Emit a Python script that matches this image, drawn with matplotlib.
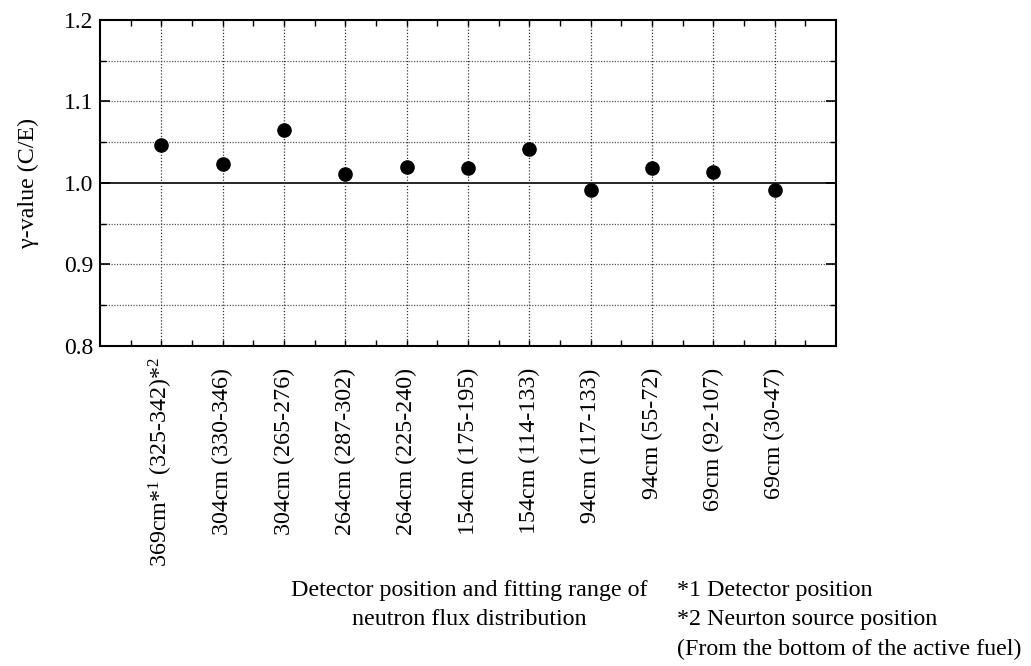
import matplotlib
matplotlib.use("Agg")
import matplotlib.pyplot as plt
import matplotlib.transforms as mtrans
import numpy as np

plt.rcParams['font.family'] = ['Liberation Serif', 'DejaVu Serif']
plt.rcParams['mathtext.fontset'] = 'custom'
plt.rcParams['mathtext.rm'] = 'Liberation Serif'
plt.rcParams['mathtext.it'] = 'Liberation Serif:italic'

labels = ["369cm*$^{1}$ (325-342)*$^{2}$", "304cm (330-346)", "304cm (265-276)",
          "264cm (287-302)", "264cm (225-240)", "154cm (175-195)",
          "154cm (114-133)", "94cm (117-133)", "94cm (55-72)",
          "69cm (92-107)", "69cm (30-47)"]
gamma = [1.047, 1.023, 1.065, 1.011, 1.020, 1.018, 1.042, 0.991, 1.018, 1.013, 0.991]

pos = np.arange(1, len(labels) + 1)

fig = plt.figure(figsize=(10.31, 6.66), dpi=100)
ax = fig.add_axes([0.097, 0.4805, 0.714, 0.4895])

# grid
for y in np.arange(0.85, 1.2, 0.05):
    if abs(y - 1.0) < 1e-6:
        ax.axhline(y, color='black', lw=1.2, zorder=1)
    else:
        ax.axhline(y, color='#555555', lw=0.9, ls=(0, (1, 1.2)), zorder=1)
for x in pos:
    ax.axvline(x, color='#333333', lw=0.9, ls=(0, (1, 1.5)), zorder=1)

ax.plot(pos, gamma, 'o', color='black', ms=9.5, zorder=3)

ax.set_xlim(0, 12)
ax.set_ylim(0.8, 1.2)
ax.set_yticks([0.8, 0.9, 1.0, 1.1, 1.2])
ax.set_yticklabels(["0.8", "0.9", "1.0", "1.1", "1.2"])
ax.set_yticks(np.arange(0.8, 1.2, 0.05), minor=True)
ax.set_xticks(pos)
ax.set_xticklabels(labels, rotation=90, fontsize=17.3)
ax.set_xticks(np.arange(0.5, 12, 0.5), minor=True)
ax.tick_params(axis='both', which='both', direction='in', top=True, right=True)
ax.tick_params(axis='y', which='major', length=7, width=1.2, labelsize=17, pad=5)
ax.tick_params(axis='y', which='minor', length=4, width=1.0)
ax.tick_params(axis='x', which='both', length=4, width=1.0, pad=16)
for s in ax.spines.values():
    s.set_linewidth(1.5)

# first label sits a bit closer to the axis (superscript sticks out)
first = ax.get_xticklabels()[0]
first.set_transform(first.get_transform() + mtrans.ScaledTranslation(0, 0.11, fig.dpi_scale_trans))

ax.set_ylabel("γ-value (C/E)", fontsize=17.3)
ax.yaxis.set_label_coords(-0.083, 0.5)

fig.text(0.455, 0.0916, "Detector position and fitting range of\nneutron flux distribution",
         ha='center', va='center', fontsize=17.3, linespacing=1.53)
fig.text(0.6566, 0.069, "*1 Detector position\n*2 Neurton source position\n(From the bottom of the active fuel)",
         ha='left', va='center', fontsize=17.3, linespacing=1.53)

fig.savefig("out.png", dpi=100)
